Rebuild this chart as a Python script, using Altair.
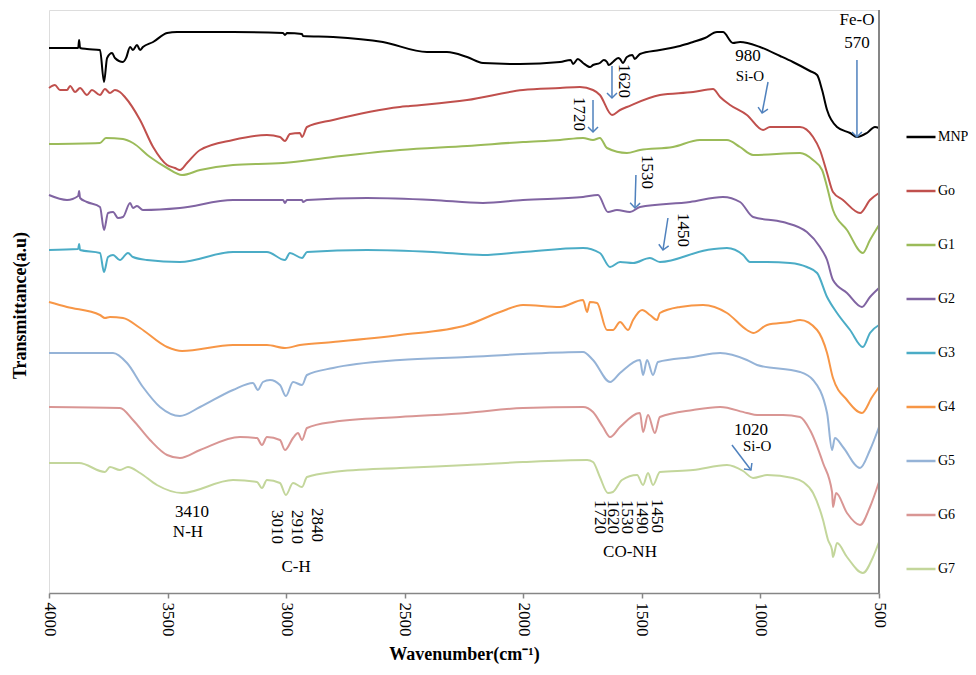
import math
import altair as alt
import pandas as pd

# ---------------- data (wavenumber cm-1, transmittance a.u.) ----------------
SERIES = ["MNP", "Go", "G1", "G2", "G3", "G4", "G5", "G6", "G7"]
COLORS = ["#000000", "#C0504D", "#9BBB59", "#8064A2", "#4BACC6",
          "#F79646", "#95B3D7", "#D99694", "#C3D69B"]

MNP = [(4000, 54.5), (3924, 54.5), (3877, 54.5), (3873, 55.3), (3869, 54.5), (3840, 54.4),
       (3785, 54.3), (3768, 51.1), (3755, 53.5), (3734, 54.0), (3722, 53.5), (3688, 53.1),
       (3675, 53.5), (3658, 54.6), (3646, 54.3), (3629, 54.8), (3616, 54.3), (3604, 54.6),
       (3561, 55.1), (3502, 56.0), (3460, 56.1), (3224, 56.1), (3013, 56.0), (3005, 55.8),
       (2996, 56.0), (2933, 55.9), (2929, 55.7), (2802, 55.6), (2592, 55.1), (2406, 54.1),
       (2322, 54.1), (2237, 53.6), (2170, 53.0), (2014, 52.9), (1845, 53.1), (1800, 53.3),
       (1790, 52.9), (1770, 53.4), (1748, 53.0), (1730, 52.7), (1719, 52.6), (1706, 52.8),
       (1677, 53.0), (1660, 53.3), (1647, 53.1), (1640, 52.8), (1622, 53.1), (1600, 53.5),
       (1592, 53.4), (1580, 53.0), (1563, 53.6), (1540, 53.8), (1530, 53.4), (1508, 53.9),
       (1424, 54.3), (1339, 54.7), (1284, 55.1), (1234, 55.5), (1183, 56.1), (1158, 56.1),
       (1116, 55.0), (1086, 55.1), (1002, 54.6), (917, 53.7), (863, 53.1), (791, 52.2),
       (761, 51.8), (740, 50.3), (719, 48.3), (677, 46.6), (622, 46.0), (593, 45.6),
       (551, 46.0), (517, 46.6), (500, 46.5)]

GO = [(4000, 50.5), (3975, 50.8), (3954, 50.3), (3924, 50.3), (3911, 50.7), (3890, 50.1),
      (3869, 50.5), (3840, 49.8), (3819, 50.3), (3785, 49.8), (3764, 50.4), (3743, 50.0),
      (3722, 50.3), (3701, 50.1), (3680, 49.6), (3616, 47.3), (3561, 44.6), (3502, 42.8),
      (3469, 42.5), (3448, 42.3), (3418, 43.0), (3363, 44.3), (3224, 45.3), (3081, 45.8),
      (3026, 45.6), (3005, 45.2), (2984, 45.9), (2942, 46.0), (2933, 45.6), (2912, 46.6),
      (2802, 47.3), (2520, 48.6), (2478, 48.7), (2237, 49.3), (2001, 50.3), (1845, 50.5),
      (1761, 50.6), (1706, 50.3), (1677, 49.8), (1626, 47.8), (1592, 48.3), (1563, 48.6),
      (1424, 49.8), (1284, 50.1), (1200, 50.4), (1170, 49.6), (1128, 48.8), (1057, 47.8),
      (989, 46.3), (960, 46.6), (905, 46.6), (833, 46.6), (778, 45.6), (749, 44.3),
      (719, 42.0), (694, 40.1), (652, 39.3), (580, 38.0), (538, 39.3), (500, 40.0)]

G1 = [(4000, 44.9), (3785, 45.0), (3760, 45.5), (3688, 45.4), (3646, 45.0), (3574, 43.6),
      (3502, 42.5), (3439, 41.8), (3363, 42.3), (3224, 42.8), (3013, 43.0), (2802, 43.6),
      (2520, 44.3), (2237, 44.7), (2001, 45.1), (1845, 45.3), (1748, 45.5), (1706, 45.3),
      (1677, 45.5), (1647, 44.5), (1563, 44.0), (1508, 44.3), (1369, 44.6), (1255, 45.3),
      (1141, 45.3), (1086, 44.6), (1031, 43.8), (833, 44.0), (778, 43.3), (740, 42.3),
      (719, 40.6), (694, 38.3), (635, 36.3), (568, 34.0), (538, 35.3), (500, 36.8)]

G2 = [(4000, 39.8), (3924, 39.3), (3877, 39.7), (3873, 40.2), (3869, 39.5), (3840, 39.1),
      (3785, 38.6), (3768, 36.3), (3751, 38.0), (3730, 38.1), (3709, 37.5), (3688, 37.6),
      (3658, 39.0), (3646, 38.5), (3629, 38.7), (3604, 38.3), (3448, 38.5), (3224, 39.3),
      (3013, 39.3), (3005, 39.0), (2996, 39.3), (2933, 39.3), (2929, 39.1), (2912, 39.3),
      (2659, 39.5), (2381, 39.3), (2170, 39.0), (2001, 39.3), (1748, 39.6), (1685, 39.8),
      (1643, 38.1), (1605, 38.3), (1550, 38.1), (1508, 38.6), (1297, 39.1), (1158, 39.6),
      (1086, 39.1), (1031, 37.6), (905, 37.1), (804, 36.1), (749, 34.6), (719, 33.3),
      (694, 31.3), (635, 30.0), (572, 28.6), (538, 29.6), (500, 30.5)]

G3 = [(4000, 34.3), (3877, 34.4), (3873, 34.9), (3869, 34.3), (3785, 34.0), (3768, 32.1),
      (3751, 33.6), (3730, 33.8), (3701, 33.3), (3667, 34.0), (3646, 33.6), (3587, 33.3),
      (3448, 33.1), (3224, 34.1), (3081, 34.1), (3005, 33.3), (2984, 34.0), (2933, 33.5),
      (2912, 34.1), (2659, 34.3), (2381, 34.1), (2170, 33.8), (2001, 34.1), (1748, 34.5),
      (1677, 34.0), (1634, 32.6), (1592, 33.1), (1537, 33.0), (1466, 33.5), (1424, 33.1),
      (1225, 34.3), (1141, 34.5), (1073, 33.8), (1044, 33.1), (972, 33.1), (875, 33.0),
      (804, 32.6), (761, 32.0), (719, 29.6), (677, 28.0), (622, 26.3), (568, 24.6),
      (538, 26.0), (500, 26.8)]

G4 = [(4000, 29.1), (3924, 28.6), (3785, 27.8), (3764, 27.5), (3743, 27.6), (3688, 27.5),
      (3616, 26.5), (3502, 24.6), (3439, 24.2), (3224, 24.8), (3081, 24.8), (3005, 24.5),
      (2942, 24.8), (2802, 25.1), (2520, 25.8), (2237, 26.8), (2098, 28.1), (2001, 28.8),
      (1845, 28.6), (1748, 29.3), (1731, 28.1), (1719, 29.1), (1689, 29.0), (1647, 26.3),
      (1622, 26.3), (1592, 27.1), (1558, 26.3), (1537, 27.3), (1499, 28.3), (1466, 27.8),
      (1436, 27.3), (1424, 28.0), (1339, 28.6), (1242, 28.8), (1141, 28.0), (1057, 26.3),
      (1031, 26.0), (972, 26.8), (875, 27.1), (833, 27.3), (761, 26.3), (719, 24.0),
      (694, 21.5), (635, 19.3), (572, 18.0), (529, 19.6), (500, 20.6)]

G5 = [(4000, 24.0), (3730, 24.0), (3671, 23.0), (3604, 20.6), (3532, 18.6), (3448, 17.7),
      (3363, 18.6), (3224, 20.3), (3140, 21.0), (3119, 20.3), (3098, 21.1), (3068, 21.3),
      (3026, 20.8), (3001, 19.7), (2971, 21.1), (2933, 20.8), (2912, 21.8), (2802, 22.5),
      (2520, 23.3), (2237, 23.6), (2001, 23.9), (1748, 24.1), (1706, 23.3), (1634, 21.1),
      (1592, 22.0), (1508, 23.3), (1495, 21.8), (1478, 23.3), (1453, 21.8), (1432, 23.1),
      (1284, 23.6), (1170, 24.0), (1057, 23.3), (1014, 22.8), (833, 22.1), (778, 21.3),
      (719, 18.0), (698, 14.3), (686, 15.5), (652, 14.6), (580, 12.5), (538, 14.3),
      (500, 16.6)]

G6 = [(4000, 18.6), (3701, 18.5), (3646, 17.3), (3574, 15.3), (3502, 13.8), (3448, 13.5),
      (3363, 14.3), (3195, 15.6), (3123, 15.5), (3102, 14.8), (3081, 15.6), (3026, 15.3),
      (3005, 14.3), (2971, 15.5), (2950, 16.0), (2933, 15.3), (2912, 16.5), (2802, 17.1),
      (2520, 17.6), (2237, 18.0), (2001, 18.5), (1748, 18.6), (1706, 18.1), (1664, 16.6),
      (1634, 15.6), (1592, 16.6), (1508, 18.0), (1495, 16.1), (1474, 17.8), (1445, 16.0),
      (1424, 17.6), (1284, 18.3), (1170, 18.6), (1057, 18.0), (1014, 17.8), (905, 17.8),
      (833, 17.6), (791, 16.3), (736, 13.0), (698, 10.1), (694, 8.6), (681, 10.0),
      (635, 8.0), (580, 6.8), (538, 8.6), (500, 11.1)]

G7 = [(4000, 13.0), (3873, 13.0), (3764, 12.1), (3743, 12.6), (3701, 12.3), (3667, 12.6),
      (3616, 12.0), (3545, 10.8), (3439, 10.0), (3224, 11.3), (3123, 11.1), (3102, 10.5),
      (3081, 11.3), (3026, 11.0), (3001, 9.8), (2971, 11.0), (2933, 10.6), (2912, 11.6),
      (2802, 12.1), (2520, 12.5), (2237, 12.8), (2001, 13.1), (1731, 13.3), (1706, 13.1),
      (1677, 11.6), (1643, 10.0), (1622, 10.1), (1584, 11.3), (1520, 11.8), (1495, 10.8),
      (1474, 12.0), (1453, 10.8), (1424, 12.1), (1284, 12.3), (1141, 12.8), (1073, 12.2),
      (1031, 11.5), (972, 11.8), (863, 11.5), (820, 11.1), (778, 10.0), (736, 7.3),
      (715, 5.3), (698, 4.3), (694, 3.6), (677, 5.0), (635, 3.6), (568, 2.0),
      (525, 3.6), (500, 5.1)]

X_TICKS = [4000, 3500, 3000, 2500, 2000, 1500, 1000, 500]

# annotations: (text, wavenumber, transmittance)
LABELS = [("Fe-O", 593, 57.3), ("570", 593, 55.0), ("980", 1052, 53.7),
          ("1020", 1040, 16.3), ("3410", 3397, 8.1), ("N-H", 3414, 6.1),
          ("C-H", 2958, 2.6), ("CO-NH", 1550, 4.1)]
SMALL_LABELS = [("Si-O", 1044, 51.7), ("Si-O", 1014, 14.7)]
ROT_LABELS = [("1620", 1575, 51.2), ("1720", 1765, 47.9), ("1530", 1478, 42.1),
              ("1450", 1327, 36.3), ("3010", 3039, 6.6), ("2910", 2954, 6.6),
              ("2840", 2870, 6.8), ("1720", 1677, 7.6), ("1620", 1622, 7.6),
              ("1530", 1563, 7.6), ("1490", 1499, 7.6), ("1450", 1436, 7.7)]
# arrows: (wn start, T start, wn end, T end) - head at end
ARROWS = [(1626, 52.7, 1626, 49.5), (1706, 49.3, 1706, 46.1), (968, 51.1, 993, 48.0),
          (593, 53.3, 593, 45.6), (1525, 41.8, 1529, 38.5), (1390, 37.5, 1411, 34.3),
          (1120, 14.8, 1040, 12.3)]

# ---------------- layout / style ----------------
W, H = 830, 583
X_DOMAIN = [500, 4000]
Y_DOMAIN = [0, 58.3]
FONT = "Liberation Serif"
AXIS_GRAY = "#868686"
ARROW_COLOR = "#4F81BD"

rows = []
for name, pts in zip(SERIES, [MNP, GO, G1, G2, G3, G4, G5, G6, G7]):
    for i, (w, t) in enumerate(pts):
        rows.append({"series": name, "wn": w, "t": t, "i": i})
df = pd.DataFrame(rows)

px_per_wn = W / (X_DOMAIN[1] - X_DOMAIN[0])
px_per_t = H / (Y_DOMAIN[1] - Y_DOMAIN[0])
arr_rows = []
for (w1, t1, w2, t2) in ARROWS:
    dx = -(w2 - w1) * px_per_wn
    dy = -(t2 - t1) * px_per_t
    ang = math.degrees(math.atan2(-dx, dy)) % 360
    arr_rows.append({"w1": w1, "t1": t1, "w2": w2, "t2": t2, "ang": ang})
arr_df = pd.DataFrame(arr_rows)

lab_df = pd.DataFrame(LABELS, columns=["label", "wn", "t"])
small_df = pd.DataFrame(SMALL_LABELS, columns=["label", "wn", "t"])
rot_df = pd.DataFrame(ROT_LABELS, columns=["label", "wn", "t"])

xs = alt.Scale(domain=X_DOMAIN, reverse=True, nice=False, zero=False)
ys = alt.Scale(domain=Y_DOMAIN, nice=False, zero=False)

x_axis = alt.Axis(values=X_TICKS, format="d", title="Wavenumber(cm⁻¹)", grid=False,
                  labelAngle=90, labelAlign="left", labelBaseline="middle",
                  labelFont=FONT, labelFontSize=17, labelColor="black", labelPadding=4,
                  labelOverlap=False, labelFlush=False,
                  tickSize=5, tickColor=AXIS_GRAY, tickWidth=1.5,
                  domainColor=AXIS_GRAY, domainWidth=1.5,
                  titleFont=FONT, titleFontSize=18, titleFontWeight="bold",
                  titleColor="black", titleY=66, titleBaseline="alphabetic")
y_axis = alt.Axis(title="Transmittance(a.u)", labels=False, ticks=False, domain=False,
                  grid=False, titleFont=FONT, titleFontSize=18, titleFontWeight="bold",
                  titleColor="black", titleX=-29, titleY=295, titleAngle=270,
                  titleAlign="center", titleBaseline="middle")

lines = alt.Chart(df).mark_line(strokeWidth=2, interpolate="monotone").encode(
    x=alt.X("wn:Q", scale=xs, axis=x_axis),
    y=alt.Y("t:Q", scale=ys, axis=y_axis),
    color=alt.Color("series:N", scale=alt.Scale(domain=SERIES, range=COLORS),
                    legend=alt.Legend(title=None, orient="none", legendX=856, legendY=111,
                                      symbolType="stroke", symbolSize=841,
                                      symbolStrokeWidth=2.5, labelFont=FONT,
                                      labelFontSize=14, labelColor="black",
                                      rowPadding=31, padding=0, labelOffset=1)),
    order=alt.Order("i:Q"),
    detail="series:N",
)

right_line = alt.Chart(df).mark_rule(color=AXIS_GRAY, strokeWidth=1.5).encode(
    x=alt.X(datum=X_DOMAIN[0], scale=xs),
    y=alt.Y(datum=Y_DOMAIN[0], scale=ys),
    y2=alt.Y2(datum=Y_DOMAIN[1]),
)

shafts = alt.Chart(arr_df).mark_rule(color=ARROW_COLOR, strokeWidth=1.5).encode(
    x=alt.X("w1:Q", scale=xs), y=alt.Y("t1:Q", scale=ys),
    x2="w2:Q", y2="t2:Q",
)
heads = alt.Chart(arr_df).mark_point(shape="M -1 -1 L 0 0 L 1 -1", filled=False,
                                     size=100, strokeWidth=1.5, color=ARROW_COLOR,
                                     opacity=1).encode(
    x=alt.X("w2:Q", scale=xs), y=alt.Y("t2:Q", scale=ys),
    angle=alt.Angle("ang:Q", scale=None),
)

labels = alt.Chart(lab_df).mark_text(font=FONT, fontSize=17, color="black",
                                     align="center", baseline="middle").encode(
    x=alt.X("wn:Q", scale=xs), y=alt.Y("t:Q", scale=ys), text="label:N")
small_labels = alt.Chart(small_df).mark_text(font=FONT, fontSize=15, color="black",
                                             align="center", baseline="middle").encode(
    x=alt.X("wn:Q", scale=xs), y=alt.Y("t:Q", scale=ys), text="label:N")
rot_labels = alt.Chart(rot_df).mark_text(font=FONT, fontSize=17, color="black", angle=90,
                                         align="center", baseline="middle").encode(
    x=alt.X("wn:Q", scale=xs), y=alt.Y("t:Q", scale=ys), text="label:N")

chart = alt.layer(lines, right_line, shafts, heads, labels, small_labels, rot_labels).properties(
    width=W, height=H,
    autosize=alt.AutoSizeParams(type="none"),
    padding={"left": 41, "top": 2, "right": 89, "bottom": 72},
).configure_view(stroke=None).configure(font=FONT)

chart.save("out.html", embed_options={"renderer": "svg", "actions": False})
